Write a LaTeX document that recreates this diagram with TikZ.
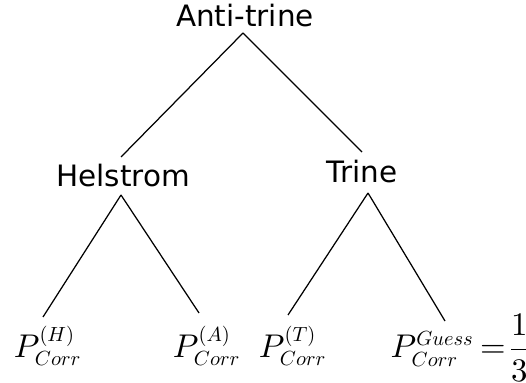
\documentclass[tikz,border=0pt]{standalone}
\usepackage{amsmath}
\usepackage[no-math]{fontspec}
\setmainfont{DejaVu Sans}
\DeclareFontShape{OML}{cmm}{m}{it}{<->cmmi10}{}
\DeclareFontShape{OT1}{cmr}{m}{n}{<->cmr10}{}
\DeclareMathSizes{10}{10.6}{6.6}{5}
\newlength{\pu}
\setlength{\pu}{0.3226pt}
\begin{document}
\begin{tikzpicture}[x=\pu,y=-\pu,
  lbl/.style={inner sep=0pt,anchor=base,font=\fontsize{9.5}{11}\selectfont},
  mth/.style={inner sep=0pt,anchor=base},
  edge/.style={draw=black,line width=0.4pt}]
\useasboundingbox (0,0) rectangle (526,383);
\node[lbl] (anti) at (245,27) {Anti-trine};
\node[lbl] (hel) at (123,187) {Helstrom};
\node[lbl] (tri) at (362,183) {Trine};
\node[mth] (ph) at (48,358) {$P^{(H)}_{Corr}$};
\node[mth] (pa) at (207,358) {$P^{(A)}_{Corr}$};
\node[mth] (pt) at (293,358) {$P^{(T)}_{Corr}$};
\node[mth,anchor=base west] (pg) at (390,358) {\nulldelimiterspace=0pt$\thickmuskip=3mu P^{Guess}_{Corr}=\dfrac{1}{3}$};
\draw[edge] ([shift={(-2,6)}]anti.base) -- ([shift={(-2,-30)}]hel.base);
\draw[edge] ([shift={(-2,6)}]anti.base) -- ([shift={(0,-31)}]tri.base);
\draw[edge] ([shift={(-2,8)}]hel.base) -- ([shift={(-5,-41)}]ph.base);
\draw[edge] ([shift={(-2,8)}]hel.base) -- ([shift={(-8,-45)}]pa.base);
\draw[edge] ([shift={(6,10)}]tri.base) -- ([shift={(-5,-43)}]pt.base);
\draw[edge] ([shift={(6,10)}]tri.base) -- ([shift={(55,-37)}]pg.base west);
\end{tikzpicture}
\end{document}
